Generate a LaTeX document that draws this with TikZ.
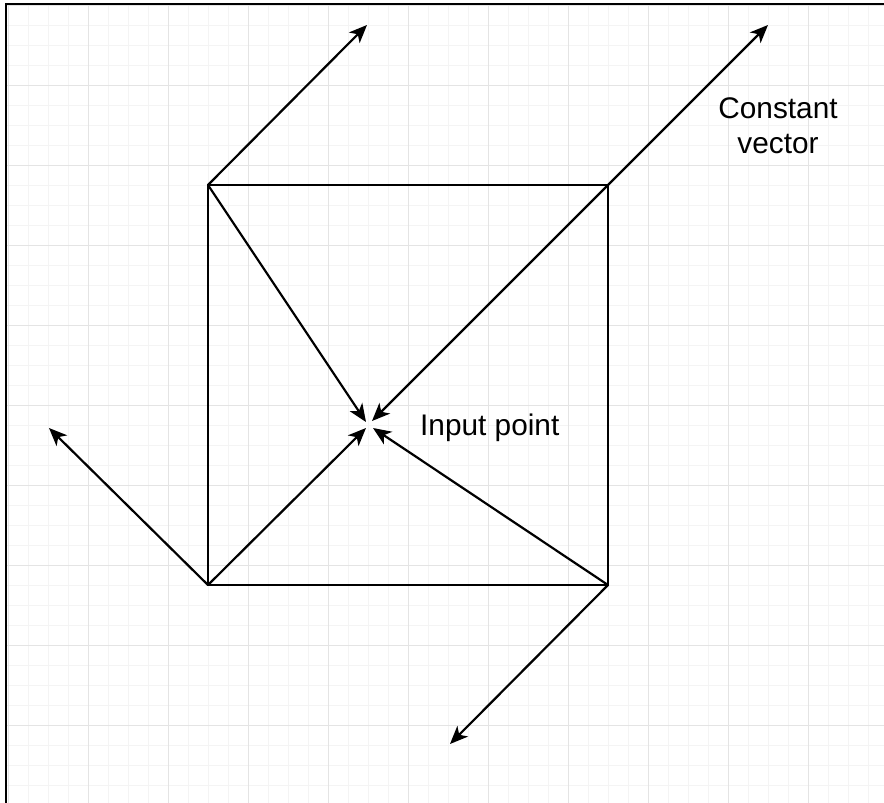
\documentclass[tikz,border=0pt]{standalone}
\usepackage{fontspec}
\setmainfont{Liberation Sans}
\usetikzlibrary{arrows.meta}
\definecolor{minorgrid}{HTML}{F4F4F4}
\definecolor{majorgrid}{HTML}{E4E4E4}
\tikzset{
  vec/.style={line width=2.2pt, -{Stealth[length=18pt,width=15pt,inset=5pt]}},
  edge/.style={line width=2.2pt},
  lbl/.style={font=\fontsize{29.8}{35}\selectfont, inner sep=0pt, text=black}
}
\begin{document}
\begin{tikzpicture}[x=1pt,y=-1pt]
\useasboundingbox[fill=white] (0,0) rectangle (884,803);
% grid
\begin{scope}
\clip (6,4) rectangle (884,803);
\foreach \gx in {8,28,...,888} \draw[minorgrid, line width=1pt] (\gx,4) -- (\gx,803);
\foreach \gy in {5,25,...,805} \draw[minorgrid, line width=1pt] (6,\gy) -- (884,\gy);
\foreach \gx in {8,88,...,888} \draw[majorgrid, line width=1pt] (\gx,4) -- (\gx,803);
\foreach \gy in {5,85,...,805} \draw[majorgrid, line width=1pt] (6,\gy) -- (884,\gy);
\end{scope}
% frame
\coordinate (f1) at (6,803);
\coordinate (f2) at (6,4);
\coordinate (f3) at (884,4);
\draw[line width=1.5pt, line cap=rect] (f1) -- (f2) -- (f3);
% square corners
\coordinate (tl) at (208,185);
\coordinate (tr) at (608,185);
\coordinate (bl) at (208,585);
\coordinate (br) at (608,585);
% inner tips
\coordinate (ctl) at (366,422);
\coordinate (ctr) at (372,421);
\coordinate (cbl) at (366,428);
\coordinate (cbr) at (373,428);
% outer tips
\coordinate (otl) at (367,25);
\coordinate (otr) at (768,25);
\coordinate (obl) at (49,428);
\coordinate (obr) at (450,744);
\draw[edge, line join=miter] (tl) -- (tr) -- (br) -- (bl) -- cycle;
\draw[vec] (tl) -- (ctl);
\draw[vec] (tr) -- (ctr);
\draw[vec] (bl) -- (cbl);
\draw[vec] (br) -- (cbr);
\draw[vec] (tl) -- (otl);
\draw[vec] (tr) -- (otr);
\draw[vec] (bl) -- (obl);
\draw[vec] (br) -- (obr);
\node[lbl, anchor=base west] (inp) at (420,435) {Input point};
\node[lbl, anchor=base, align=center] (cv) at (778,153) {Constant\\vector};
\end{tikzpicture}
\end{document}
